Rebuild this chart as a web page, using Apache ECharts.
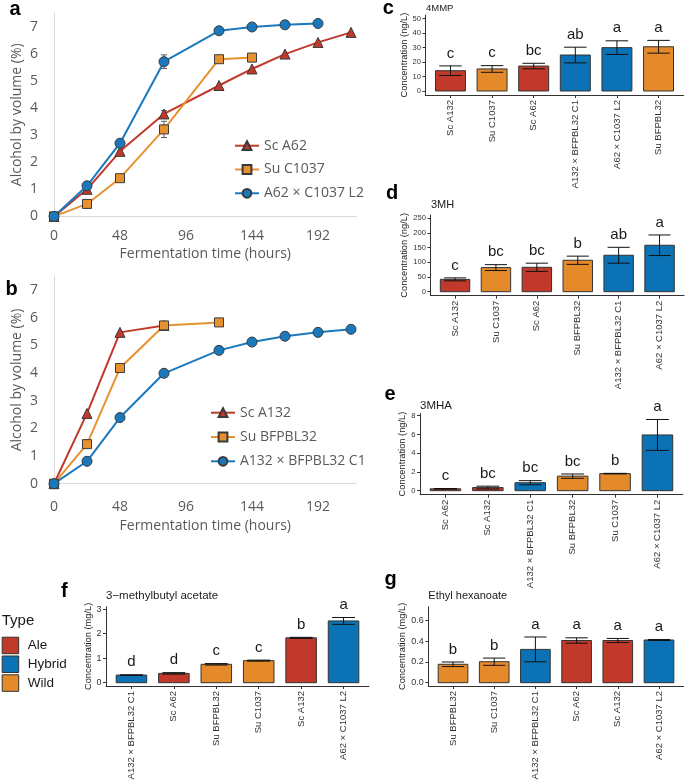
<!DOCTYPE html>
<html><head><meta charset="utf-8">
<script src="https://cdn.jsdelivr.net/npm/echarts@6/dist/echarts.min.js"></script>
<style>html,body{margin:0;padding:0;background:#fff}#chart{width:685px;height:781px}</style>
</head><body><div id="chart"></div>
<script>
// ================= DATA =================
// Panel a/b: fermentation curves (alcohol by volume, %)
const timeTicks = [0, 48, 96, 144, 192];
const abvTicks = [0, 1, 2, 3, 4, 5, 6, 7];

const timeScA62 = [0, 24, 48, 80, 120, 144, 168, 192, 216];
const abvScA62 = [0, 1.0, 2.4, 3.78, 4.83, 5.44, 5.99, 6.42, 6.79];
const sdScA62 = [0, 0, 0, 0.12, 0, 0, 0, 0, 0];
const timeSuC1037 = [0, 24, 48, 80, 120, 144];
const abvSuC1037 = [0, 0.46, 1.41, 3.21, 5.80, 5.86];
const sdSuC1037 = [0, 0, 0, 0.3, 0, 0];
const timeL2 = [0, 24, 48, 80, 120, 144, 168, 192];
const abvL2 = [0, 1.13, 2.70, 5.71, 6.85, 6.99, 7.07, 7.12];
const sdL2 = [0, 0, 0, 0.25, 0, 0, 0, 0];

const timeScA132 = [0, 24, 48, 80];
const abvScA132 = [0, 2.54, 5.47, 5.72];
const timeSuBFPBL32 = [0, 24, 48, 80, 120];
const abvSuBFPBL32 = [0, 1.43, 4.18, 5.72, 5.83];
const timeC1 = [0, 24, 48, 80, 120, 144, 168, 192, 216];
const abvC1 = [0, 0.81, 2.39, 3.99, 4.82, 5.12, 5.33, 5.47, 5.58];

// Panel c: 4MMP (ng/L)
const cats4MMP = ['Sc A132', 'Su C1037', 'Sc A62', 'A132 × BFPBL32 C1', 'A62 × C1037 L2', 'Su BFPBL32'];
const types4MMP = ['Ale', 'Wild', 'Ale', 'Hybrid', 'Hybrid', 'Wild'];
const mean4MMP = [14.0, 15.2, 17.2, 24.8, 29.9, 30.5];
const sd4MMP = [3.3, 2.3, 1.9, 5.4, 4.7, 4.4];
const letters4MMP = ['c', 'c', 'bc', 'ab', 'a', 'a'];
const ticks4MMP = [0, 10, 20, 30, 40, 50];

// Panel d: 3MH (ng/L)
const cats3MH = ['Sc A132', 'Su C1037', 'Sc A62', 'Su BFPBL32', 'A132 × BFPBL32 C1', 'A62 × C1037 L2'];
const types3MH = ['Ale', 'Wild', 'Ale', 'Wild', 'Hybrid', 'Hybrid'];
const mean3MH = [42, 82, 83, 107, 124, 158];
const sd3MH = [5, 10, 14, 14, 27, 35];
const letters3MH = ['c', 'bc', 'bc', 'b', 'ab', 'a'];
const ticks3MH = [0, 50, 100, 150, 200, 250];

// Panel e: 3MHA (ng/L)
const cats3MHA = ['Sc A62', 'Sc A132', 'A132 × BFPBL32 C1', 'Su BFPBL32', 'Su C1037', 'A62 × C1037 L2'];
const types3MHA = ['Ale', 'Ale', 'Hybrid', 'Wild', 'Wild', 'Hybrid'];
const mean3MHA = [0.2, 0.33, 0.85, 1.55, 1.82, 5.95];
const sd3MHA = [0.03, 0.15, 0.22, 0.23, 0.03, 1.65];
const letters3MHA = ['c', 'bc', 'bc', 'bc', 'b', 'a'];
const ticks3MHA = [0, 2, 4, 6, 8];

// Panel f: 3-methylbutyl acetate (mg/L)
const catsMBA = ['A132 × BFPBL32 C1', 'Sc A62', 'Su BFPBL32', 'Su C1037', 'Sc A132', 'A62 × C1037 L2'];
const typesMBA = ['Hybrid', 'Ale', 'Wild', 'Wild', 'Ale', 'Hybrid'];
const meanMBA = [0.31, 0.38, 0.75, 0.9, 1.83, 2.52];
const sdMBA = [0.01, 0.03, 0.03, 0.02, 0.02, 0.14];
const lettersMBA = ['d', 'd', 'c', 'c', 'b', 'a'];
const ticksMBA = [0, 1, 2, 3];

// Panel g: Ethyl hexanoate (mg/L)
const catsEH = ['Su BFPBL32', 'Su C1037', 'A132 × BFPBL32 C1', 'Sc A62', 'Sc A132', 'A62 × C1037 L2'];
const typesEH = ['Wild', 'Wild', 'Hybrid', 'Ale', 'Ale', 'Hybrid'];
const meanEH = [0.178, 0.203, 0.322, 0.408, 0.408, 0.413];
const sdEH = [0.022, 0.035, 0.12, 0.026, 0.02, 0.005];
const lettersEH = ['b', 'b', 'a', 'a', 'a', 'a'];
const ticksEH = [0, 0.2, 0.4, 0.6];

const typeNames = ['Ale', 'Hybrid', 'Wild'];

// ================= STYLE / LAYOUT =================
const FONT_BAR = '"Liberation Sans", Arial, sans-serif';
const FONT_LINE = '"Open Sans", sans-serif';
const GREY_TXT = '#595959';
const COLORS = { Ale: '#c0392b', Hybrid: '#0a72b5', Wild: '#e58a2b' };
const L_RED = '#c0392b', L_ORANGE = '#e8912f', L_BLUE = '#1a78bd';
const BAR_HALF = 0.36, CAP_HALF = 0.27;

const barPanels = [
  { cats: cats4MMP, types: types4MMP, mean: mean4MMP, sd: sd4MMP, letters: letters4MMP, ticks: ticks4MMP,
    unit: 'Concentration (ng/L)', grid: { left: 425.5, top: 15, width: 258, height: 80 },
    ymin: -2.76, ymax: 52.4, nameGap: 16.5, yFont: 7.6, fmt: v => String(v) },
  { cats: cats3MH, types: types3MH, mean: mean3MH, sd: sd3MH, letters: letters3MH, ticks: ticks3MH,
    unit: 'Concentration (ng/L)', grid: { left: 430.5, top: 215, width: 253.6, height: 80.7 },
    ymin: -13.6, ymax: 260.9, nameGap: 21.5, yFont: 7.6, fmt: v => String(v) },
  { cats: cats3MHA, types: types3MHA, mean: mean3MHA, sd: sd3MHA, letters: letters3MHA, ticks: ticks3MHA,
    unit: 'Concentration (ng/L)', grid: { left: 420, top: 413.3, width: 262.9, height: 81.4 },
    ymin: -0.43, ymax: 8.26, nameGap: 11, yFont: 7.6, fmt: v => String(v) },
  { cats: catsMBA, types: typesMBA, mean: meanMBA, sd: sdMBA, letters: lettersMBA, ticks: ticksMBA,
    unit: 'Concentration (mg/L)', grid: { left: 106, top: 606.7, width: 263, height: 79.3 },
    ymin: -0.135, ymax: 3.1, nameGap: 11.2, yFont: 9, fmt: v => String(v) },
  { cats: catsEH, types: typesEH, mean: meanEH, sd: sdEH, letters: lettersEH, ticks: ticksEH,
    unit: 'Concentration (mg/L)', grid: { left: 428.3, top: 606.7, width: 255.4, height: 79.3 },
    ymin: -0.032, ymax: 0.735, nameGap: 17.8, yFont: 9, fmt: v => v.toFixed(1) }
];

// ================= BUILD =================
const grids = [
  { left: 54, top: 13.15, width: 302.5, height: 203.25 },
  { left: 54, top: 276.2, width: 302.5, height: 207.5 }
];
const xAxes = [], yAxes = [], series = [];

function lineAxes(idx, labelMargin, nameGap) {
  xAxes.push({
    type: 'value', gridIndex: idx, min: 0, max: 220,
    name: 'Fermentation time (hours)', nameLocation: 'middle', nameGap: nameGap,
    nameTextStyle: { fontFamily: FONT_LINE, fontSize: 14, color: GREY_TXT },
    axisLine: { show: true, onZero: false, lineStyle: { color: '#d9d9d9', width: 1 } },
    axisTick: { show: false }, splitLine: { show: false },
    axisLabel: { customValues: timeTicks, margin: labelMargin, fontFamily: FONT_LINE, fontSize: 14, color: GREY_TXT }
  });
  yAxes.push({
    type: 'value', gridIndex: idx, min: 0, max: 7.5,
    name: 'Alcohol by volume (%)', nameLocation: 'middle', nameGap: 30.3,
    nameTextStyle: { fontFamily: FONT_LINE, fontSize: 14, color: GREY_TXT },
    axisLine: { show: true, onZero: false, lineStyle: { color: '#d9d9d9', width: 1 } },
    axisTick: { show: false }, splitLine: { show: false },
    axisLabel: { customValues: abvTicks, margin: 16, fontFamily: FONT_LINE, fontSize: 14, color: GREY_TXT }
  });
}
lineAxes(0, 13, 31);
lineAxes(1, 16, 35.3);

function errLineSeries(idx, times, vals, sds) {
  const data = times.map((t, i) => [t, vals[i], sds[i]]).filter(d => d[2] > 0);
  return {
    type: 'custom', xAxisIndex: idx, yAxisIndex: idx, data: data, z: 2, silent: true, clip: false,
    renderItem: (params, api) => {
      const x = api.value(0), y = api.value(1), s = api.value(2);
      const t = api.coord([x, y + s]), b = api.coord([x, y - s]);
      const st = { stroke: '#595959', lineWidth: 1 };
      return { type: 'group', children: [
        { type: 'line', shape: { x1: t[0], y1: t[1], x2: b[0], y2: b[1] }, style: st },
        { type: 'line', shape: { x1: t[0] - 3, y1: t[1], x2: t[0] + 3, y2: t[1] }, style: st },
        { type: 'line', shape: { x1: b[0] - 3, y1: b[1], x2: b[0] + 3, y2: b[1] }, style: st }
      ] };
    }
  };
}
function lineSeries(idx, name, times, vals, color, symbol, size) {
  return {
    name: name, type: 'line', xAxisIndex: idx, yAxisIndex: idx,
    data: times.map((t, i) => [t, vals[i]]),
    symbol: symbol, symbolSize: size, showSymbol: true, showAllSymbol: true, z: 3,
    lineStyle: { color: color, width: 2 },
    itemStyle: { color: color, borderColor: '#3a3a3a', borderWidth: 1 },
    emphasis: { disabled: true }
  };
}
series.push(errLineSeries(0, timeScA62, abvScA62, sdScA62));
series.push(errLineSeries(0, timeSuC1037, abvSuC1037, sdSuC1037));
series.push(errLineSeries(0, timeL2, abvL2, sdL2));
series.push(lineSeries(0, 'Sc A62', timeScA62, abvScA62, L_RED, 'triangle', 10));
series.push(lineSeries(0, 'Su C1037', timeSuC1037, abvSuC1037, L_ORANGE, 'rect', 9));
series.push(lineSeries(0, 'A62 × C1037 L2', timeL2, abvL2, L_BLUE, 'circle', 10));
series.push(lineSeries(1, 'Sc A132', timeScA132, abvScA132, L_RED, 'triangle', 10));
series.push(lineSeries(1, 'Su BFPBL32', timeSuBFPBL32, abvSuBFPBL32, L_ORANGE, 'rect', 9));
series.push(lineSeries(1, 'A132 × BFPBL32 C1', timeC1, abvC1, L_BLUE, 'circle', 10));

barPanels.forEach((p, k) => {
  const idx = k + 2;
  const catPos = p.cats.map((_, i) => i + 1);
  grids.push(p.grid);
  xAxes.push({
    type: 'value', gridIndex: idx, min: 0.4, max: 6.6,
    axisLine: { show: true, onZero: false, lineStyle: { color: '#333', width: 1 } },
    axisTick: { show: true, customValues: catPos, length: 3, lineStyle: { color: '#333', width: 1 } },
    splitLine: { show: false },
    axisLabel: { customValues: catPos, rotate: 90, margin: 5, fontFamily: FONT_BAR, fontSize: 9.5, color: '#333',
      formatter: v => p.cats[Math.round(v) - 1] }
  });
  yAxes.push({
    type: 'value', gridIndex: idx, min: p.ymin, max: p.ymax,
    name: p.unit, nameLocation: 'middle', nameGap: p.nameGap,
    nameTextStyle: { fontFamily: FONT_BAR, fontSize: 9.3, color: '#1a1a1a' },
    axisLine: { show: true, onZero: false, lineStyle: { color: '#333', width: 1 } },
    axisTick: { show: true, customValues: p.ticks, length: 3, lineStyle: { color: '#333', width: 1 } },
    splitLine: { show: false },
    axisLabel: { customValues: p.ticks, margin: 4.5, fontFamily: FONT_BAR, fontSize: p.yFont, color: '#333', formatter: p.fmt }
  });
  const data = p.mean.map((m, i) => [i + 1, m, p.sd[i]]);
  series.push({
    type: 'custom', xAxisIndex: idx, yAxisIndex: idx, data: data, z: 2, silent: true, clip: false,
    renderItem: (params, api) => {
      const i = params.dataIndex;
      const x = api.value(0), m = api.value(1);
      const a = api.coord([x - BAR_HALF, m]), b = api.coord([x + BAR_HALF, 0]);
      return { type: 'rect', shape: { x: a[0], y: a[1], width: b[0] - a[0], height: b[1] - a[1] },
        style: { fill: COLORS[p.types[i]], stroke: '#333', lineWidth: 1 } };
    }
  });
  series.push({
    type: 'custom', xAxisIndex: idx, yAxisIndex: idx, data: data, z: 3, silent: true, clip: false,
    renderItem: (params, api) => {
      const i = params.dataIndex;
      const x = api.value(0), m = api.value(1), s = api.value(2);
      const t = api.coord([x, m + s]), b = api.coord([x, m - s]);
      const l = api.coord([x - CAP_HALF, m])[0], r = api.coord([x + CAP_HALF, m])[0];
      const st = { stroke: '#111', lineWidth: 1 };
      return { type: 'group', children: [
        { type: 'line', shape: { x1: t[0], y1: t[1], x2: b[0], y2: b[1] }, style: st },
        { type: 'line', shape: { x1: l, y1: t[1], x2: r, y2: t[1] }, style: st },
        { type: 'line', shape: { x1: l, y1: b[1], x2: r, y2: b[1] }, style: st },
        { type: 'text', style: { text: p.letters[i], x: t[0], y: t[1] - 5, align: 'center', verticalAlign: 'bottom',
          font: '15px ' + FONT_BAR, fill: '#1a1a1a' } }
      ] };
    }
  });
});

// dummy series for the "Type" legend
typeNames.forEach(n => series.push({ name: n, type: 'bar', xAxisIndex: 5, yAxisIndex: 5, data: [], itemStyle: { color: COLORS[n] } }));

function gText(txt, x, y, font, fill) {
  return { type: 'text', x: x, y: y, silent: true, style: { text: txt, font: font, fill: fill || '#000', align: 'left', verticalAlign: 'middle' } };
}
const BOLD = 'bold 20px ' + FONT_BAR;
const graphics = [
  gText('a', 9.5, 9.1, BOLD), gText('b', 5.5, 289.8, BOLD), gText('c', 382.8, 8.1, BOLD),
  gText('d', 386, 193.1, BOLD), gText('e', 384.5, 394.8, BOLD), gText('f', 61, 591.4, BOLD),
  gText('g', 384.5, 579.1, BOLD),
  gText('4MMP', 426, 8.4, '9.5px ' + FONT_BAR, '#1a1a1a'),
  gText('3MH', 431, 205.2, '11px ' + FONT_BAR, '#1a1a1a'),
  gText('3MHA', 420, 406, '11.5px ' + FONT_BAR, '#1a1a1a'),
  gText('3\u2212methylbutyl acetate', 106, 595.9, '11.5px ' + FONT_BAR, '#1a1a1a'),
  gText('Ethyl hexanoate', 428.3, 595.8, '11px ' + FONT_BAR, '#1a1a1a'),
  gText('Type', 1.7, 620.5, '15px ' + FONT_BAR, '#1a1a1a')
];

const lineLegendText = { fontFamily: FONT_LINE, fontSize: 14, color: GREY_TXT, lineHeight: 14 };
const option = {
  animation: false,
  backgroundColor: '#fff',
  textStyle: { fontFamily: FONT_BAR },
  grid: grids.map(g => Object.assign({ outerBoundsMode: 'none', containLabel: false }, g)),
  xAxis: xAxes,
  yAxis: yAxes,
  legend: [
    { data: ['Sc A62', 'Su C1037', 'A62 × C1037 L2'], orient: 'vertical', left: 234, top: 138.7, padding: 0,
      itemWidth: 24, itemHeight: 11, itemGap: 9.8, textStyle: lineLegendText, selectedMode: false },
    { data: ['Sc A132', 'Su BFPBL32', 'A132 × BFPBL32 C1'], orient: 'vertical', left: 210, top: 405.7, padding: 0,
      itemWidth: 24, itemHeight: 11, itemGap: 10.3, textStyle: lineLegendText, selectedMode: false },
    { data: typeNames, orient: 'vertical', left: 1.7, top: 636.7, padding: 0, icon: 'rect',
      itemWidth: 16.5, itemHeight: 16.5, itemGap: 1.3, selectedMode: false,
      itemStyle: { borderColor: '#333', borderWidth: 1 },
      textStyle: { fontFamily: FONT_BAR, fontSize: 13.5, color: '#1a1a1a', padding: [0, 0, 0, 4] } }
  ],
  graphic: { elements: graphics },
  series: series
};
const chart = echarts.init(document.getElementById('chart'), null, { renderer: 'canvas' });
chart.setOption(option);
</script>
</body></html>
